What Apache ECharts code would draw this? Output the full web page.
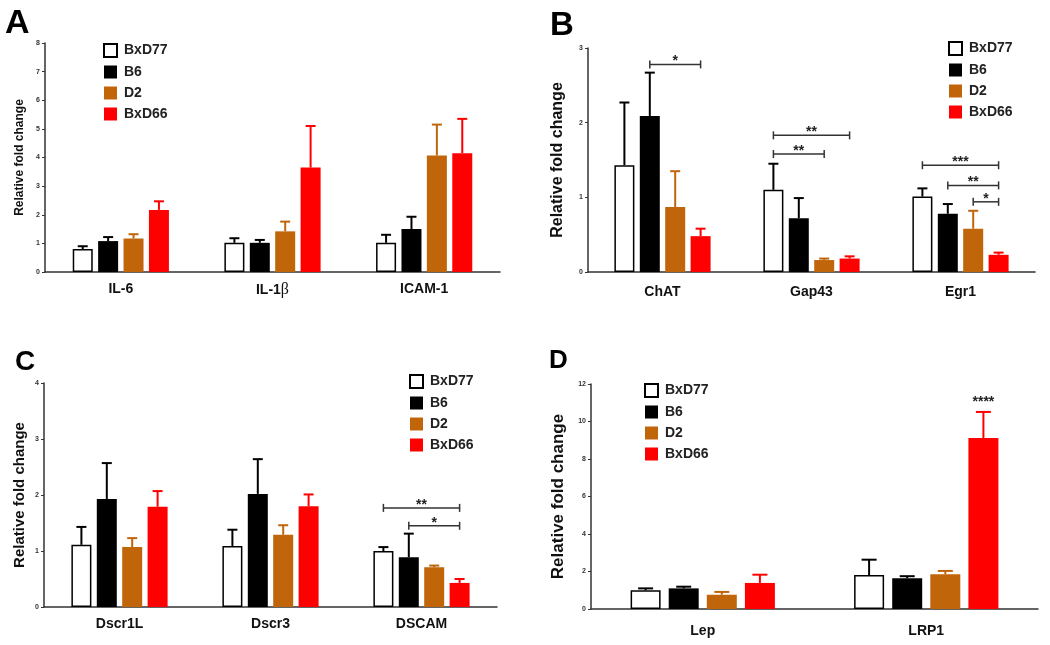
<!DOCTYPE html>
<html>
<head>
<meta charset="utf-8">
<script src="https://cdn.jsdelivr.net/npm/echarts@6/dist/echarts.min.js"></script>
<style>
  html, body { margin: 0; padding: 0; background: #fff; }
  #main { width: 1050px; height: 645px; }
</style>
</head>
<body>
<div id="main"></div>
<script>
// strains (legend order)
const groups = ['BxD77', 'B6', 'D2', 'BxD66']

// panel A
const catsA = ['IL-6', 'IL-1β', 'ICAM-1']
const meansA = [[0.8, 1.02, 1.02], [1.08, 1.02, 1.5], [1.17, 1.42, 4.07], [2.17, 3.65, 4.15]]
const errTopA = [[0.9, 1.18, 1.3], [1.22, 1.12, 1.93], [1.32, 1.76, 5.15], [2.47, 5.1, 5.35]]
const sigA = []

// panel B
const catsB = ['ChAT', 'Gap43', 'Egr1']
const meansB = [[1.43, 1.1, 1.01], [2.09, 0.72, 0.78], [0.87, 0.16, 0.58], [0.48, 0.18, 0.23]]
const errTopB = [[2.27, 1.45, 1.12], [2.67, 0.99, 0.91], [1.35, 0.18, 0.82], [0.58, 0.21, 0.26]]
// [category, from strain, to strain, y, stars]
const sigB = [[0, 1, 3, 2.78, '*'], [1, 0, 3, 1.83, '**'], [1, 0, 2, 1.58, '**'],
  [2, 0, 3, 1.43, '***'], [2, 1, 3, 1.16, '**'], [2, 2, 3, 0.94, '*']]

// panel C
const catsC = ['Dscr1L', 'Dscr3', 'DSCAM']
const meansC = [[1.11, 1.09, 1.0], [1.93, 2.02, 0.89], [1.07, 1.29, 0.71], [1.79, 1.8, 0.43]]
const errTopC = [[1.43, 1.38, 1.07], [2.57, 2.64, 1.31], [1.23, 1.46, 0.74], [2.07, 2.01, 0.5]]
const sigC = [[2, 0, 3, 1.77, '**'], [2, 1, 3, 1.45, '*']]

// panel D
const catsD = ['Lep', 'LRP1']
const meansD = [[1.0, 1.81], [1.1, 1.64], [0.76, 1.85], [1.39, 9.12]]
const errTopD = [[1.1, 2.63], [1.19, 1.75], [0.91, 2.03], [1.83, 10.51]]
const sigD = [[1, 3, 3, 10.85, '****']]

const fills = ['#ffffff', '#000000', '#c0650a', '#ff0000']
const whisker = ['#000000', '#000000', '#c0650a', '#ff0000']
const FONT = '"Liberation Sans", Arial, sans-serif'

const panels = [
  { letter: 'A', lx: 5, ly: 7, lsize: 34, cats: catsA, means: meansA, errs: errTopA, sigs: sigA,
    grid: { left: 45, top: 43, width: 455, height: 229 }, max: 8, interval: 1,
    nameSize: 12, nameGap: 19, labelMargin: 10, bw: 20, legend: { left: 103, top: 43 } },
  { letter: 'B', lx: 550, ly: 9, lsize: 33, cats: catsB, means: meansB, errs: errTopB, sigs: sigB,
    grid: { left: 588, top: 48, width: 447, height: 224 }, max: 3, interval: 1,
    nameSize: 16, nameGap: 22, labelMargin: 13, bw: 20, legend: { left: 948, top: 41 } },
  { letter: 'C', lx: 15, ly: 348, lsize: 28, cats: catsC, means: meansC, errs: errTopC, sigs: sigC,
    grid: { left: 44, top: 383, width: 453, height: 224 }, max: 4, interval: 1,
    nameSize: 15, nameGap: 17, labelMargin: 10, bw: 20, legend: { left: 409, top: 374 } },
  { letter: 'D', lx: 549, ly: 348, lsize: 26, cats: catsD, means: meansD, errs: errTopD, sigs: sigD,
    grid: { left: 591, top: 384, width: 447, height: 225 }, max: 12, interval: 2,
    nameSize: 17, nameGap: 24, labelMargin: 15, bw: 30, legend: { left: 644, top: 383 } },
]

const GAP = 0.27
const offsetOf = (i, bw) => (i - 1.5) * bw * (1 + GAP)

const option = {
  backgroundColor: '#fff',
  animation: false,
  title: [], grid: [], xAxis: [], yAxis: [], legend: [], series: [],
}

panels.forEach((p, k) => {
  option.title.push({
    text: p.letter, left: p.lx, top: p.ly, padding: 0,
    textStyle: { fontFamily: FONT, fontWeight: 'bold', fontSize: p.lsize, color: '#000' },
  })
  option.grid.push(Object.assign({ containLabel: false }, p.grid))
  option.xAxis.push({
    type: 'category', gridIndex: k, data: p.cats,
    axisLine: { lineStyle: { color: '#333', width: 1.5 } },
    axisTick: { alignWithLabel: true, length: 3, lineStyle: { color: '#333' } },
    axisLabel: {
      margin: p.labelMargin, color: '#111',
      formatter: (v) => v.indexOf('β') >= 0 ? '{b|' + v.replace('β', '') + '}{g|β}' : '{b|' + v + '}',
      rich: {
        b: { fontFamily: FONT, fontWeight: 'bold', fontSize: 14, color: '#111' },
        g: { fontFamily: '"Liberation Serif", serif', fontSize: 16, color: '#111' },
      },
    },
  })
  option.yAxis.push({
    type: 'value', gridIndex: k, min: 0, max: p.max, interval: p.interval,
    name: 'Relative fold change', nameLocation: 'middle', nameGap: p.nameGap,
    nameTextStyle: { fontFamily: FONT, fontWeight: 'bold', fontSize: p.nameSize, color: '#111' },
    axisLine: { show: true, lineStyle: { color: '#333', width: 1.5 } },
    axisTick: { show: true, length: 3, lineStyle: { color: '#333' } },
    axisLabel: { fontFamily: FONT, fontWeight: 'bold', fontSize: 7, color: '#333', margin: 5 },
    splitLine: { show: false },
  })
  option.legend.push({
    data: groups, orient: 'vertical', left: p.legend.left, top: p.legend.top, padding: 0,
    itemWidth: 13, itemHeight: 13, itemGap: 7, icon: 'rect', selectedMode: false,
    textStyle: { fontFamily: FONT, fontWeight: 'bold', fontSize: 14, color: '#222', padding: [0, 0, 0, 2] },
  })
  groups.forEach((g, i) => {
    option.series.push({
      type: 'bar', name: g, xAxisIndex: k, yAxisIndex: k,
      barWidth: p.bw, barGap: (GAP * 100) + '%',
      itemStyle: i === 0 ? { color: fills[i], borderColor: '#000', borderWidth: 1.5 } : { color: fills[i] },
      data: p.means[i],
    })
  })
  // error whiskers
  groups.forEach((g, i) => {
    option.series.push({
      type: 'custom', xAxisIndex: k, yAxisIndex: k, z: 3,
      data: p.means[i].map((m, c) => [c, m, p.errs[i][c]]),
      encode: { x: 0, y: [1, 2] },
      renderItem: (params, api) => {
        const base = api.coord([api.value(0), api.value(1)])
        const top = api.coord([api.value(0), api.value(2)])
        const x = base[0] + offsetOf(i, p.bw)
        const cw = p.bw * 0.5
        const st = { stroke: whisker[i], lineWidth: 2 }
        return {
          type: 'group', children: [
            { type: 'line', shape: { x1: x, y1: base[1], x2: x, y2: top[1] }, style: st },
            { type: 'line', shape: { x1: x - cw / 2, y1: top[1], x2: x + cw / 2, y2: top[1] }, style: st },
          ],
        }
      },
    })
  })
  // significance brackets
  if (p.sigs.length) {
    option.series.push({
      type: 'custom', xAxisIndex: k, yAxisIndex: k, z: 4,
      data: p.sigs.map((s) => [s[0], s[3]]),
      encode: { x: 0, y: 1 },
      renderItem: (params, api) => {
        const s = p.sigs[params.dataIndex]
        const c = api.coord([api.value(0), api.value(1)])
        const x1 = c[0] + offsetOf(s[1], p.bw)
        const x2 = c[0] + offsetOf(s[2], p.bw)
        const y = c[1]
        const st = { stroke: '#333', lineWidth: 1.5 }
        const children = [{
          type: 'text',
          style: { text: s[4], x: (x1 + x2) / 2, y: y + 4, align: 'center', verticalAlign: 'bottom',
            font: 'bold 14px ' + FONT, fill: '#222' },
        }]
        if (s[1] !== s[2]) {
          children.push(
            { type: 'line', shape: { x1: x1, y1: y, x2: x2, y2: y }, style: st },
            { type: 'line', shape: { x1: x1, y1: y - 4, x2: x1, y2: y + 4 }, style: st },
            { type: 'line', shape: { x1: x2, y1: y - 4, x2: x2, y2: y + 4 }, style: st },
          )
        }
        return { type: 'group', children: children }
      },
    })
  }
})

const chart = echarts.init(document.getElementById('main'))
chart.setOption(option)
window.addEventListener('resize', () => chart.resize())
</script>
</body>
</html>
